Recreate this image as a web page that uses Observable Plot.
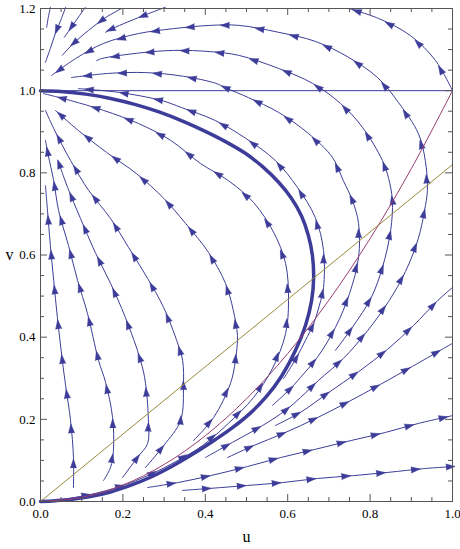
<!DOCTYPE html>
<html>
<head>
<meta charset="utf-8">
<script src="https://cdn.jsdelivr.net/npm/d3@7"></script>
<script src="https://cdn.jsdelivr.net/npm/@observablehq/plot@0.6"></script>
<style>
  html, body { margin: 0; padding: 0; background: #fff; }
  #chart { width: 460px; height: 549px; }
</style>
</head>
<body>
<div id="chart"></div>
<script>
// ---------- data, [u, v] ----------
// streamlines inside the separatrix (flow upward toward (0,1))
const streamL1 = [[0.080,0.034],[0.080,0.107],[0.073,0.197],[0.061,0.282],[0.053,0.343],[0.041,0.448],[0.032,0.538],[0.024,0.623],[0.017,0.708],[0.012,0.769]];
const streamL2 = [[0.153,0.051],[0.170,0.083],[0.177,0.124],[0.175,0.204],[0.158,0.290],[0.141,0.343],[0.114,0.458],[0.090,0.538],[0.068,0.623],[0.044,0.708],[0.032,0.781],[0.019,0.842],[0.012,0.879]];
const streamL3 = [[0.199,0.058],[0.235,0.107],[0.260,0.141],[0.262,0.192],[0.255,0.287],[0.243,0.343],[0.206,0.448],[0.170,0.531],[0.133,0.606],[0.097,0.689],[0.066,0.764],[0.044,0.825]];
const streamL4 = [[0.255,0.083],[0.299,0.136],[0.340,0.197],[0.347,0.282],[0.345,0.343],[0.333,0.385],[0.299,0.472],[0.260,0.543],[0.214,0.618],[0.170,0.689],[0.117,0.757],[0.073,0.830],[0.032,0.908],[0.012,0.952]];
const streamL5 = [[0.371,0.148],[0.420,0.204],[0.461,0.287],[0.473,0.343],[0.478,0.404],[0.468,0.465],[0.449,0.531],[0.408,0.606],[0.352,0.677],[0.299,0.738],[0.233,0.798],[0.160,0.850],[0.092,0.903],[0.036,0.952]];
const streamL6 = [[0.053,0.005],[0.121,0.017],[0.194,0.037],[0.267,0.066],[0.328,0.097],[0.393,0.136],[0.456,0.190],[0.517,0.253],[0.563,0.324],[0.595,0.409],[0.602,0.489],[0.595,0.579],[0.566,0.655],[0.517,0.728],[0.456,0.781],[0.388,0.823],[0.316,0.879],[0.238,0.920],[0.153,0.952],[0.073,0.976],[0.007,0.993]];
// streamlines outside the separatrix
const streamM7 = [[0.590,0.299],[0.607,0.326],[0.624,0.355],[0.643,0.392],[0.663,0.433],[0.680,0.489],[0.687,0.521],[0.687,0.611],[0.667,0.691],[0.624,0.764],[0.570,0.830],[0.498,0.884],[0.425,0.927],[0.342,0.959],[0.294,0.976],[0.189,0.996],[0.092,1.005]];
const streamP1 = [[0.400,0.107],[0.466,0.144],[0.539,0.185],[0.595,0.222],[0.631,0.253],[0.675,0.295],[0.735,0.348],[0.794,0.416],[0.845,0.487],[0.886,0.560],[0.917,0.640],[0.932,0.708],[0.939,0.757],[0.934,0.830],[0.917,0.896],[0.869,0.971],[0.818,1.032],[0.748,1.081],[0.667,1.120],[0.578,1.142],[0.481,1.159],[0.413,1.159],[0.323,1.151],[0.238,1.139],[0.153,1.115],[0.085,1.078],[0.027,1.037]];
const streamP2 = [[0.716,0.368],[0.757,0.424],[0.803,0.497],[0.830,0.570],[0.850,0.660],[0.854,0.733],[0.845,0.786],[0.830,0.830],[0.782,0.910],[0.728,0.969],[0.660,1.018],[0.578,1.054],[0.481,1.086],[0.413,1.095],[0.323,1.098],[0.233,1.091],[0.148,1.078],[0.136,1.073]];
const streamP3 = [[0.563,0.234],[0.607,0.275],[0.631,0.302],[0.672,0.351],[0.716,0.424],[0.750,0.506],[0.772,0.594],[0.772,0.677],[0.757,0.733],[0.735,0.781],[0.709,0.837],[0.650,0.896],[0.578,0.947],[0.505,0.983],[0.449,1.007],[0.425,1.018],[0.347,1.035],[0.255,1.044],[0.165,1.042],[0.075,1.032]];
const streamO1 = [[1.000,1.000],[0.959,1.073],[0.898,1.134],[0.820,1.176],[0.748,1.200]];
const streamE = [[0.570,0.185],[0.631,0.217],[0.699,0.265],[0.772,0.316],[0.842,0.370],[0.905,0.428],[0.964,0.489],[1.000,0.521]];
const streamF = [[0.454,0.107],[0.517,0.136],[0.590,0.166],[0.672,0.204],[0.748,0.243],[0.825,0.285],[0.903,0.329],[1.000,0.385]];
const streamG = [[0.260,0.034],[0.333,0.046],[0.413,0.063],[0.502,0.085],[0.583,0.107],[0.667,0.127],[0.752,0.148],[0.837,0.168],[0.917,0.190],[1.000,0.209]];
const streamH = [[0.345,0.027],[0.413,0.032],[0.502,0.039],[0.587,0.046],[0.672,0.056],[0.760,0.063],[0.845,0.071],[0.930,0.080],[1.000,0.085]];
// short streamlines in the top-left corner (flow down-left)
const streamTa = [[0.024,1.203],[0.019,1.179],[0.015,1.154]];
const streamTb = [[0.061,1.203],[0.049,1.171],[0.036,1.139],[0.024,1.103],[0.012,1.069]];
const streamTc = [[0.109,1.203],[0.083,1.166],[0.058,1.130]];
const streamTd = [[0.197,1.200],[0.158,1.178],[0.117,1.147],[0.080,1.115],[0.053,1.086]];
const streamTe = [[0.303,1.203],[0.238,1.178],[0.170,1.149],[0.158,1.142]];

// thick separatrix
const separatrix = [[0,1.0],[0.049,0.998],[0.114,0.991],[0.170,0.981],[0.231,0.966],[0.291,0.947],[0.352,0.923],[0.400,0.901],[0.449,0.876],[0.498,0.847],[0.539,0.815],[0.578,0.777],[0.609,0.738],[0.633,0.696],[0.650,0.648],[0.660,0.599],[0.663,0.545],[0.658,0.489],[0.643,0.428],[0.619,0.368],[0.585,0.305],[0.548,0.255],[0.508,0.214],[0.461,0.176],[0.413,0.143],[0.364,0.112],[0.316,0.084],[0.267,0.059],[0.218,0.039],[0.170,0.023],[0.121,0.012],[0.073,0.005],[0.036,0.002],[0,0]];

// nullclines
const lineV1 = [[0,1],[1,1]];
const lineRed = [[0,0],[0.1,0.01],[0.2,0.04],[0.3,0.09],[0.4,0.16],[0.5,0.25],[0.6,0.36],[0.7,0.49],[0.8,0.64],[0.9,0.81],[1.0,1.0]];
const lineOlive = [[0,0],[1,0.82]];

// ticks
const xMajor = [0, 0.2, 0.4, 0.6, 0.8, 1.0];
const yMajor = [0, 0.2, 0.4, 0.6, 0.8, 1.0, 1.2];
const xMinor = [0.05,0.1,0.15,0.25,0.3,0.35,0.45,0.5,0.55,0.65,0.7,0.75,0.85,0.9,0.95];
const yMinor = [0.05,0.1,0.15,0.25,0.3,0.35,0.45,0.5,0.55,0.65,0.7,0.75,0.85,0.9,0.95,1.05,1.1,1.15];

// ---------- build ----------
const streams = [streamL1, streamL2, streamL3, streamL4, streamL5, streamL6, streamM7, streamP1, streamP2, streamP3, streamO1, streamE, streamF, streamG, streamH, streamTa, streamTb, streamTc, streamTd, streamTe];

const W = 460, H = 549, ML = 40, MR = 8, MT = 8, MB = 48;
const innerW = W - ML - MR, innerH = H - MT - MB;
const SX = innerW / 1, SY = innerH / 1.2;

const streamRows = streams.flatMap((s, i) => s.map(([u, v]) => ({id: i, u, v})));

function arrowsOf(pts, start = 24, step = 35) {
  const out = [];
  let acc = 0, next = start;
  for (let i = 1; i < pts.length; i++) {
    const [u0, v0] = pts[i - 1], [u1, v1] = pts[i];
    const dx = (u1 - u0) * SX, dy = (v1 - v0) * SY;
    const len = Math.hypot(dx, dy);
    while (len > 0 && acc + len >= next) {
      const t = (next - acc) / len;
      out.push({u: u0 + t * (u1 - u0), v: v0 + t * (v1 - v0), r: Math.atan2(dx, dy) * 180 / Math.PI});
      next += step;
    }
    acc += len;
  }
  return out;
}
const arrowRows = streams.flatMap(s => arrowsOf(s));

const toRows = a => a.map(([u, v]) => ({u, v}));
const BLUE = "#3d3d99", RED = "#993d71", OLIVE = "#998b3d", FRAME = "#555";
const FONT = "'Liberation Serif', 'Times New Roman', serif";

const chart = Plot.plot({
  width: W, height: H,
  marginLeft: ML, marginRight: MR, marginTop: MT, marginBottom: MB,
  x: {domain: [0, 1]},
  y: {domain: [0, 1.2]},
  style: {fontFamily: FONT, fontSize: "13px", background: "#fff", overflow: "visible"},
  marks: [
    Plot.line(streamRows, {x: "u", y: "v", z: "id", stroke: BLUE, strokeWidth: 1, curve: "catmull-rom"}),
    Plot.vector(arrowRows, {x: "u", y: "v", rotate: "r", length: 9, shape: "spike", r: 3, anchor: "middle", fill: BLUE, stroke: BLUE, strokeWidth: 0.6}),
    Plot.line(toRows(separatrix), {x: "u", y: "v", stroke: BLUE, strokeWidth: 3.5, curve: "catmull-rom"}),
    Plot.line(toRows(lineV1), {x: "u", y: "v", stroke: BLUE, strokeWidth: 1}),
    Plot.line(toRows(lineRed), {x: "u", y: "v", stroke: RED, strokeWidth: 1, curve: "catmull-rom"}),
    Plot.line(toRows(lineOlive), {x: "u", y: "v", stroke: OLIVE, strokeWidth: 1}),
    Plot.frame({stroke: FRAME, strokeWidth: 1}),
    // inward ticks on all four sides
    Plot.ruleX(xMajor, {stroke: FRAME, insetTop: innerH - 7}),
    Plot.ruleX(xMajor, {stroke: FRAME, insetBottom: innerH - 7}),
    Plot.ruleX(xMinor, {stroke: FRAME, insetTop: innerH - 4}),
    Plot.ruleX(xMinor, {stroke: FRAME, insetBottom: innerH - 4}),
    Plot.ruleY(yMajor, {stroke: FRAME, insetRight: innerW - 7}),
    Plot.ruleY(yMajor, {stroke: FRAME, insetLeft: innerW - 7}),
    Plot.ruleY(yMinor, {stroke: FRAME, insetRight: innerW - 4}),
    Plot.ruleY(yMinor, {stroke: FRAME, insetLeft: innerW - 4}),
    Plot.axisX(xMajor, {tickSize: 0, tickPadding: 7, tickFormat: d3.format(".1f"), label: null, fontSize: 13, fill: "#000"}),
    Plot.axisY(yMajor, {tickSize: 0, tickPadding: 5, tickFormat: d3.format(".1f"), label: null, fontSize: 13, fill: "#000"}),
    Plot.text(["u"], {frameAnchor: "bottom", dy: 40, text: d => d, fontSize: 16, fill: "#000"}),
    Plot.text(["v"], {frameAnchor: "left", dx: -35, text: d => d, fontSize: 16, fill: "#000"})
  ]
});
document.getElementById("chart").appendChild(chart);
</script>
</body>
</html>
